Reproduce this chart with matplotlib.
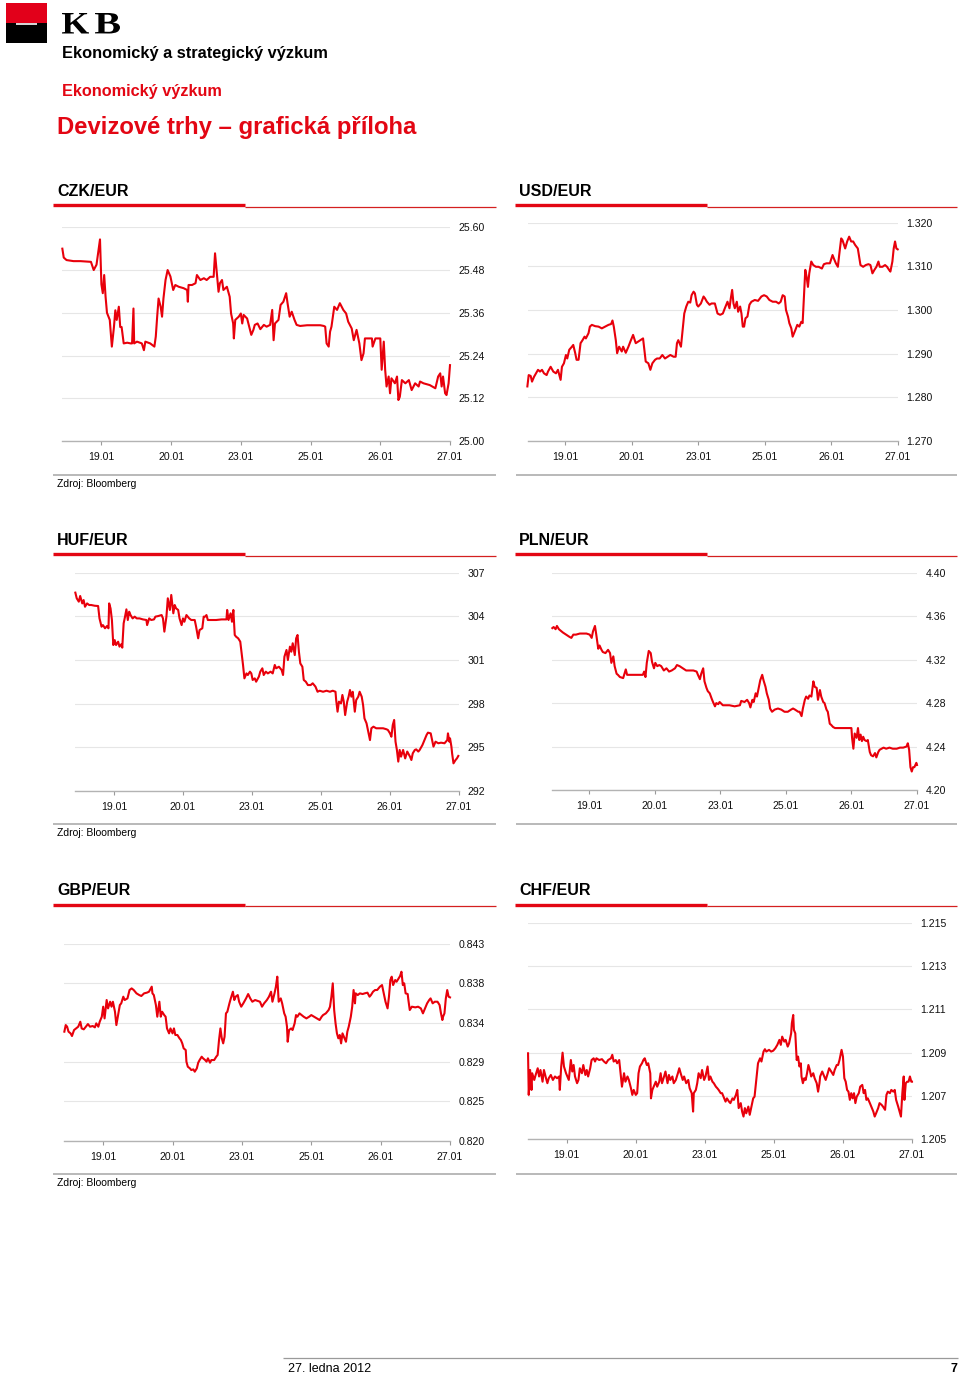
import matplotlib
matplotlib.use("Agg")
import matplotlib.pyplot as plt
from matplotlib.lines import Line2D
from matplotlib.patches import Rectangle, PathPatch
from matplotlib.textpath import TextPath
from matplotlib.font_manager import FontProperties
from matplotlib.transforms import Affine2D, IdentityTransform

plt.rcParams['font.family'] = ['Liberation Sans', 'DejaVu Sans']

# ---------------- data ----------------
date_labels = ["19.01", "20.01", "23.01", "25.01", "26.01", "27.01"]

czk = [(-0.56,25.540),(-0.54,25.515),(-0.50,25.508),(-0.40,25.505),(-0.30,25.505),(-0.15,25.503),(-0.11,25.480),(-0.07,25.495),(-0.02,25.566),(0.00,25.440),(0.02,25.415),(0.04,25.466),(0.06,25.405),(0.08,25.360),(0.12,25.340),(0.15,25.265),(0.18,25.320),(0.20,25.367),(0.22,25.340),(0.25,25.377),(0.27,25.320),(0.29,25.320),(0.32,25.274),(0.37,25.276),(0.42,25.274),(0.44,25.274),(0.46,25.372),(0.47,25.274),(0.51,25.279),(0.58,25.274),(0.61,25.255),(0.63,25.279),(0.70,25.274),(0.76,25.265),(0.78,25.293),(0.80,25.349),(0.82,25.400),(0.85,25.377),(0.87,25.349),(0.89,25.400),(0.92,25.452),(0.95,25.480),(0.99,25.462),(1.03,25.424),(1.06,25.438),(1.11,25.433),(1.18,25.429),(1.23,25.424),(1.24,25.391),(1.25,25.438),(1.30,25.438),(1.35,25.443),(1.37,25.466),(1.42,25.452),(1.47,25.457),(1.51,25.452),(1.56,25.461),(1.61,25.461),(1.63,25.527),(1.66,25.461),(1.68,25.419),(1.70,25.443),(1.73,25.452),(1.75,25.424),(1.80,25.433),(1.84,25.405),(1.86,25.358),(1.89,25.330),(1.90,25.288),(1.92,25.340),(1.97,25.349),(2.00,25.358),(2.02,25.330),(2.04,25.354),(2.09,25.344),(2.12,25.321),(2.15,25.298),(2.18,25.312),(2.20,25.326),(2.24,25.330),(2.28,25.314),(2.33,25.326),(2.37,25.321),(2.42,25.326),(2.45,25.368),(2.47,25.283),(2.49,25.330),(2.54,25.340),(2.57,25.382),(2.61,25.391),(2.65,25.415),(2.67,25.387),(2.70,25.349),(2.73,25.363),(2.77,25.340),(2.80,25.326),(2.85,25.323),(2.95,25.325),(3.04,25.325),(3.14,25.325),(3.19,25.323),(3.21,25.321),(3.23,25.274),(3.26,25.265),(3.28,25.307),(3.30,25.321),(3.34,25.377),(3.38,25.368),(3.42,25.387),(3.47,25.368),(3.51,25.358),(3.54,25.335),(3.59,25.316),(3.62,25.283),(3.66,25.312),(3.70,25.274),(3.73,25.227),(3.76,25.246),(3.78,25.288),(3.83,25.288),(3.88,25.288),(3.89,25.265),(3.93,25.288),(4.00,25.288),(4.02,25.200),(4.05,25.279),(4.07,25.200),(4.09,25.153),(4.12,25.181),(4.14,25.134),(4.16,25.176),(4.21,25.162),(4.24,25.181),(4.26,25.115),(4.28,25.124),(4.31,25.171),(4.36,25.162),(4.41,25.171),(4.45,25.143),(4.50,25.162),(4.55,25.153),(4.57,25.167),(4.62,25.162),(4.71,25.157),(4.79,25.148),(4.83,25.181),(4.86,25.190),(4.88,25.153),(4.90,25.181),(4.93,25.134),(4.95,25.129),(4.98,25.162),(5.00,25.213)]

usd = [(-0.57,1.2825),(-0.55,1.2851),(-0.52,1.2849),(-0.50,1.2836),(-0.47,1.2847),(-0.44,1.2855),(-0.41,1.2863),(-0.38,1.2859),(-0.35,1.2863),(-0.32,1.2855),(-0.28,1.2851),(-0.26,1.2859),(-0.22,1.2870),(-0.18,1.2859),(-0.14,1.2855),(-0.11,1.2863),(-0.07,1.2840),(-0.05,1.2870),(-0.02,1.2878),(0.01,1.2897),(0.03,1.2889),(0.06,1.2909),(0.10,1.2916),(0.12,1.2920),(0.15,1.2901),(0.17,1.2886),(0.20,1.2886),(0.23,1.2924),(0.26,1.2931),(0.29,1.2939),(0.31,1.2935),(0.35,1.2947),(0.37,1.2962),(0.40,1.2966),(0.45,1.2963),(0.50,1.2962),(0.55,1.2958),(0.60,1.2962),(0.65,1.2966),(0.69,1.2968),(0.71,1.2976),(0.73,1.2962),(0.76,1.2931),(0.78,1.2901),(0.81,1.2916),(0.85,1.2905),(0.87,1.2916),(0.91,1.2902),(0.95,1.2916),(0.98,1.2928),(1.02,1.2943),(1.06,1.2924),(1.10,1.2928),(1.13,1.2931),(1.17,1.2935),(1.19,1.2909),(1.21,1.2882),(1.25,1.2878),(1.28,1.2863),(1.31,1.2878),(1.35,1.2886),(1.38,1.2889),(1.42,1.2889),(1.46,1.2897),(1.50,1.2889),(1.54,1.2893),(1.58,1.2897),(1.63,1.2893),(1.66,1.2893),(1.68,1.2924),(1.70,1.2931),(1.74,1.2916),(1.77,1.2962),(1.79,1.2992),(1.82,1.3008),(1.85,1.3019),(1.88,1.3017),(1.90,1.3034),(1.93,1.3042),(1.95,1.3038),(1.98,1.3012),(2.00,1.3008),(2.04,1.3015),(2.08,1.3031),(2.10,1.3027),(2.13,1.3019),(2.17,1.3012),(2.20,1.3015),(2.25,1.3015),(2.29,1.2992),(2.33,1.2989),(2.37,1.2992),(2.40,1.3004),(2.44,1.3019),(2.47,1.3004),(2.49,1.3027),(2.51,1.3046),(2.53,1.3015),(2.55,1.3004),(2.58,1.3019),(2.60,1.2996),(2.63,1.3008),(2.65,1.2992),(2.67,1.2962),(2.69,1.2962),(2.71,1.2981),(2.74,1.2985),(2.77,1.3012),(2.80,1.3019),(2.85,1.3023),(2.90,1.3021),(2.95,1.3031),(2.99,1.3034),(3.03,1.3031),(3.07,1.3023),(3.12,1.3019),(3.17,1.3019),(3.21,1.3015),(3.24,1.3019),(3.27,1.3034),(3.30,1.3031),(3.32,1.3000),(3.35,1.2985),(3.37,1.2970),(3.40,1.2958),(3.42,1.2939),(3.46,1.2954),(3.49,1.2966),(3.52,1.2962),(3.55,1.2973),(3.57,1.2970),(3.59,1.3031),(3.61,1.3092),(3.63,1.3076),(3.65,1.3053),(3.67,1.3084),(3.70,1.3111),(3.73,1.3103),(3.77,1.3099),(3.81,1.3099),(3.86,1.3095),(3.89,1.3105),(3.93,1.3107),(3.98,1.3107),(4.02,1.3126),(4.04,1.3118),(4.07,1.3107),(4.10,1.3099),(4.12,1.3126),(4.15,1.3164),(4.17,1.3160),(4.21,1.3141),(4.24,1.3157),(4.27,1.3168),(4.30,1.3157),(4.33,1.3157),(4.36,1.3149),(4.40,1.3141),(4.42,1.3122),(4.44,1.3103),(4.48,1.3099),(4.52,1.3103),(4.56,1.3105),(4.59,1.3103),(4.62,1.3084),(4.65,1.3092),(4.68,1.3099),(4.71,1.3111),(4.73,1.3099),(4.77,1.3099),(4.81,1.3103),(4.84,1.3099),(4.87,1.3092),(4.89,1.3088),(4.92,1.3111),(4.94,1.3141),(4.96,1.3157),(4.98,1.3141),(5.00,1.3139)]

huf = [(-0.56,305.63),(-0.54,305.24),(-0.51,305.01),(-0.49,305.40),(-0.46,304.89),(-0.44,305.12),(-0.42,304.66),(-0.39,304.89),(-0.36,304.78),(-0.33,304.78),(-0.28,304.73),(-0.23,304.71),(-0.21,303.86),(-0.18,303.29),(-0.16,303.40),(-0.13,303.18),(-0.10,303.34),(-0.08,303.18),(-0.07,304.89),(-0.05,304.55),(-0.03,303.75),(-0.01,302.03),(0.01,302.37),(0.03,302.03),(0.06,302.26),(0.08,301.92),(0.11,302.10),(0.12,301.85),(0.14,303.52),(0.16,303.98),(0.18,304.48),(0.20,303.75),(0.22,304.32),(0.24,304.09),(0.27,303.86),(0.30,303.98),(0.33,303.86),(0.37,303.86),(0.42,303.79),(0.47,303.75),(0.48,303.40),(0.51,303.86),(0.54,303.75),(0.58,303.79),(0.60,303.98),(0.64,304.02),(0.69,304.09),(0.71,303.86),(0.73,302.95),(0.76,303.98),(0.78,305.24),(0.81,304.44),(0.83,305.47),(0.86,304.21),(0.88,304.78),(0.90,304.55),(0.93,304.44),(0.95,303.86),(0.98,303.40),(1.00,303.86),(1.02,303.63),(1.05,304.09),(1.09,303.86),(1.12,303.75),(1.17,303.75),(1.19,303.29),(1.22,302.49),(1.24,303.06),(1.28,303.18),(1.30,303.98),(1.32,303.98),(1.34,304.09),(1.36,303.75),(1.41,303.75),(1.48,303.75),(1.56,303.79),(1.63,303.79),(1.64,304.44),(1.66,303.75),(1.69,304.21),(1.71,303.63),(1.73,304.44),(1.75,302.72),(1.77,302.60),(1.80,302.49),(1.83,302.26),(1.85,301.46),(1.87,300.66),(1.89,299.74),(1.92,300.08),(1.94,299.97),(1.97,300.20),(1.99,300.08),(2.01,299.63),(2.04,299.74),(2.06,299.51),(2.10,299.86),(2.12,300.20),(2.15,300.43),(2.17,299.97),(2.20,300.20),(2.23,300.08),(2.27,300.20),(2.30,300.08),(2.33,300.66),(2.35,300.43),(2.39,300.54),(2.43,300.31),(2.45,299.97),(2.47,301.23),(2.50,301.69),(2.52,301.00),(2.55,301.92),(2.57,301.57),(2.59,302.15),(2.62,301.34),(2.64,302.49),(2.66,302.72),(2.68,301.57),(2.70,300.77),(2.73,300.54),(2.75,299.63),(2.78,299.51),(2.81,299.28),(2.85,299.28),(2.88,299.40),(2.92,299.17),(2.95,298.82),(2.98,298.89),(3.03,298.82),(3.08,298.89),(3.13,298.82),(3.17,298.89),(3.21,298.82),(3.22,298.25),(3.24,297.45),(3.26,298.14),(3.29,298.02),(3.31,298.60),(3.33,298.14),(3.35,297.22),(3.38,298.14),(3.40,298.48),(3.42,298.94),(3.44,298.48),(3.46,298.82),(3.49,297.45),(3.51,298.25),(3.54,298.48),(3.56,298.82),(3.59,298.48),(3.61,297.91),(3.63,296.99),(3.66,296.65),(3.68,296.19),(3.71,295.50),(3.73,296.31),(3.76,296.42),(3.80,296.31),(3.85,296.31),(3.90,296.31),(3.95,296.24),(3.97,296.19),(4.00,295.96),(4.02,295.73),(4.04,296.53),(4.06,296.88),(4.08,295.39),(4.10,294.82),(4.12,294.02),(4.14,294.82),(4.16,294.36),(4.19,294.82),(4.22,294.24),(4.25,294.71),(4.29,294.36),(4.31,294.13),(4.33,294.59),(4.36,294.82),(4.38,294.86),(4.41,294.71),(4.43,294.82),(4.47,295.16),(4.50,295.50),(4.53,295.85),(4.55,296.01),(4.59,295.96),(4.61,295.50),(4.63,295.05),(4.66,295.39),(4.70,295.28),(4.74,295.32),(4.79,295.28),(4.83,295.50),(4.84,295.96),(4.86,295.39),(4.87,295.62),(4.89,295.05),(4.90,294.59),(4.92,293.90),(4.95,294.13),(4.97,294.24),(4.99,294.41)]

pln = [(-0.56,4.349),(-0.54,4.350),(-0.51,4.348),(-0.49,4.351),(-0.46,4.348),(-0.44,4.347),(-0.40,4.345),(-0.35,4.343),(-0.30,4.341),(-0.27,4.340),(-0.24,4.343),(-0.20,4.343),(-0.14,4.344),(-0.09,4.344),(-0.04,4.344),(0.01,4.343),(0.04,4.340),(0.06,4.346),(0.09,4.351),(0.11,4.343),(0.14,4.330),(0.16,4.333),(0.19,4.329),(0.21,4.327),(0.25,4.326),(0.29,4.329),(0.32,4.326),(0.34,4.317),(0.37,4.323),(0.39,4.314),(0.42,4.307),(0.44,4.306),(0.47,4.304),(0.52,4.303),(0.54,4.307),(0.56,4.311),(0.58,4.306),(0.62,4.306),(0.67,4.306),(0.75,4.306),(0.82,4.306),(0.84,4.309),(0.86,4.304),(0.88,4.317),(0.91,4.328),(0.94,4.326),(0.96,4.318),(0.99,4.312),(1.01,4.317),(1.04,4.314),(1.07,4.315),(1.10,4.314),(1.14,4.310),(1.18,4.312),(1.22,4.309),(1.26,4.310),(1.31,4.312),(1.34,4.315),(1.38,4.314),(1.43,4.312),(1.48,4.310),(1.54,4.310),(1.59,4.310),(1.64,4.309),(1.66,4.306),(1.69,4.302),(1.71,4.307),(1.74,4.312),(1.76,4.300),(1.79,4.294),(1.81,4.291),(1.84,4.289),(1.87,4.284),(1.89,4.281),(1.92,4.277),(1.94,4.280),(1.97,4.279),(1.99,4.281),(2.04,4.278),(2.09,4.278),(2.14,4.278),(2.22,4.277),(2.30,4.278),(2.32,4.282),(2.37,4.281),(2.41,4.283),(2.44,4.280),(2.46,4.276),(2.49,4.283),(2.51,4.281),(2.54,4.289),(2.56,4.286),(2.59,4.295),(2.61,4.301),(2.64,4.306),(2.66,4.301),(2.69,4.295),(2.71,4.289),(2.74,4.283),(2.76,4.275),(2.79,4.272),(2.83,4.274),(2.88,4.275),(2.93,4.274),(2.98,4.272),(3.03,4.272),(3.08,4.274),(3.11,4.275),(3.14,4.274),(3.19,4.272),(3.21,4.272),(3.24,4.268),(3.26,4.275),(3.29,4.283),(3.31,4.286),(3.34,4.284),(3.36,4.287),(3.39,4.286),(3.42,4.300),(3.44,4.295),(3.47,4.294),(3.49,4.283),(3.52,4.292),(3.54,4.286),(3.57,4.281),(3.59,4.280),(3.62,4.274),(3.64,4.272),(3.67,4.261),(3.69,4.260),(3.72,4.258),(3.75,4.257),(3.80,4.257),(3.87,4.257),(3.95,4.257),(4.00,4.257),(4.01,4.248),(4.03,4.238),(4.05,4.252),(4.08,4.248),(4.10,4.257),(4.12,4.246),(4.14,4.251),(4.16,4.245),(4.18,4.249),(4.20,4.246),(4.23,4.245),(4.25,4.246),(4.28,4.235),(4.30,4.232),(4.33,4.231),(4.36,4.234),(4.38,4.230),(4.41,4.235),(4.43,4.237),(4.46,4.238),(4.49,4.239),(4.53,4.238),(4.58,4.239),(4.63,4.238),(4.69,4.238),(4.74,4.239),(4.79,4.239),(4.84,4.240),(4.86,4.243),(4.88,4.237),(4.90,4.221),(4.92,4.217),(4.94,4.221),(4.96,4.221),(4.99,4.225),(5.00,4.223)]

gbp = [(-0.56,0.83275),(-0.54,0.83352),(-0.52,0.83333),(-0.50,0.83275),(-0.47,0.83255),(-0.45,0.83224),(-0.42,0.83294),(-0.39,0.83313),(-0.36,0.83333),(-0.33,0.83391),(-0.31,0.83313),(-0.28,0.83302),(-0.25,0.83333),(-0.22,0.83364),(-0.19,0.83333),(-0.15,0.83341),(-0.12,0.83325),(-0.10,0.83372),(-0.07,0.83333),(-0.05,0.83391),(-0.02,0.83450),(0.00,0.83567),(0.02,0.83430),(0.05,0.83645),(0.07,0.83547),(0.10,0.83625),(0.12,0.83567),(0.14,0.83625),(0.17,0.83508),(0.19,0.83352),(0.22,0.83489),(0.24,0.83586),(0.26,0.83606),(0.29,0.83684),(0.31,0.83645),(0.35,0.83664),(0.38,0.83762),(0.41,0.83781),(0.44,0.83762),(0.48,0.83723),(0.52,0.83703),(0.55,0.83692),(0.59,0.83723),(0.63,0.83731),(0.66,0.83742),(0.70,0.83801),(0.71,0.83723),(0.73,0.83703),(0.76,0.83586),(0.78,0.83450),(0.81,0.83625),(0.83,0.83450),(0.85,0.83508),(0.88,0.83469),(0.90,0.83450),(0.92,0.83313),(0.95,0.83255),(0.97,0.83313),(1.00,0.83255),(1.02,0.83313),(1.04,0.83236),(1.07,0.83236),(1.10,0.83197),(1.12,0.83177),(1.14,0.83138),(1.16,0.83080),(1.19,0.83060),(1.20,0.82924),(1.22,0.82865),(1.25,0.82846),(1.27,0.82826),(1.30,0.82834),(1.32,0.82807),(1.35,0.82846),(1.37,0.82912),(1.39,0.82943),(1.42,0.82982),(1.44,0.82963),(1.47,0.82943),(1.49,0.82924),(1.51,0.82963),(1.54,0.82912),(1.56,0.82943),(1.60,0.82943),(1.63,0.82982),(1.65,0.83002),(1.67,0.83177),(1.69,0.83313),(1.71,0.83197),(1.73,0.83138),(1.75,0.83216),(1.77,0.83489),(1.79,0.83508),(1.82,0.83606),(1.84,0.83664),(1.87,0.83742),(1.89,0.83645),(1.91,0.83684),(1.94,0.83703),(1.96,0.83625),(1.99,0.83567),(2.02,0.83606),(2.06,0.83664),(2.09,0.83715),(2.12,0.83664),(2.15,0.83625),(2.19,0.83645),(2.22,0.83637),(2.26,0.83625),(2.29,0.83567),(2.32,0.83606),(2.36,0.83645),(2.39,0.83684),(2.42,0.83742),(2.44,0.83625),(2.47,0.83723),(2.49,0.83801),(2.51,0.83918),(2.53,0.83625),(2.56,0.83664),(2.58,0.83606),(2.61,0.83489),(2.63,0.83450),(2.65,0.83333),(2.66,0.83157),(2.68,0.83294),(2.71,0.83313),(2.73,0.83294),(2.76,0.83372),(2.78,0.83469),(2.80,0.83450),(2.83,0.83489),(2.86,0.83469),(2.89,0.83450),(2.93,0.83430),(2.97,0.83450),(3.00,0.83469),(3.04,0.83450),(3.08,0.83430),(3.12,0.83411),(3.15,0.83450),(3.17,0.83469),(3.21,0.83489),(3.25,0.83528),(3.27,0.83567),(3.29,0.83684),(3.31,0.83840),(3.33,0.83528),(3.35,0.83372),(3.37,0.83255),(3.39,0.83197),(3.41,0.83236),(3.43,0.83138),(3.45,0.83255),(3.47,0.83216),(3.50,0.83157),(3.52,0.83275),(3.54,0.83333),(3.57,0.83450),(3.59,0.83567),(3.61,0.83762),(3.63,0.83606),(3.64,0.83723),(3.67,0.83703),(3.70,0.83723),(3.74,0.83715),(3.77,0.83723),(3.81,0.83731),(3.84,0.83684),(3.86,0.83703),(3.89,0.83742),(3.92,0.83762),(3.95,0.83762),(3.99,0.83801),(4.02,0.83820),(4.05,0.83703),(4.07,0.83625),(4.10,0.83547),(4.12,0.83684),(4.14,0.83879),(4.16,0.83918),(4.18,0.83820),(4.21,0.83879),(4.23,0.83859),(4.26,0.83898),(4.28,0.83925),(4.30,0.83976),(4.32,0.83820),(4.34,0.83840),(4.36,0.83723),(4.39,0.83715),(4.40,0.83645),(4.42,0.83528),(4.45,0.83567),(4.50,0.83559),(4.54,0.83567),(4.58,0.83547),(4.61,0.83489),(4.64,0.83547),(4.67,0.83606),(4.70,0.83645),(4.72,0.83664),(4.75,0.83606),(4.78,0.83625),(4.82,0.83625),(4.85,0.83586),(4.87,0.83489),(4.89,0.83411),(4.90,0.83450),(4.92,0.83489),(4.94,0.83664),(4.96,0.83762),(4.98,0.83684),(5.00,0.83676)]

chf = [(-0.56,1.20897),(-0.55,1.20705),(-0.53,1.20820),(-0.51,1.20728),(-0.50,1.20805),(-0.47,1.20774),(-0.45,1.20797),(-0.42,1.20828),(-0.40,1.20790),(-0.38,1.20820),(-0.35,1.20766),(-0.33,1.20820),(-0.30,1.20782),(-0.28,1.20759),(-0.26,1.20782),(-0.23,1.20797),(-0.20,1.20774),(-0.17,1.20790),(-0.14,1.20782),(-0.11,1.20790),(-0.10,1.20728),(-0.08,1.20836),(-0.06,1.20900),(-0.04,1.20836),(-0.01,1.20805),(0.01,1.20790),(0.03,1.20774),(0.06,1.20866),(0.08,1.20813),(0.10,1.20843),(0.12,1.20790),(0.15,1.20759),(0.17,1.20774),(0.19,1.20828),(0.22,1.20805),(0.24,1.20843),(0.27,1.20797),(0.29,1.20820),(0.31,1.20790),(0.34,1.20828),(0.36,1.20866),(0.39,1.20874),(0.41,1.20859),(0.43,1.20874),(0.47,1.20866),(0.51,1.20870),(0.54,1.20859),(0.57,1.20851),(0.60,1.20866),(0.64,1.20874),(0.66,1.20890),(0.68,1.20859),(0.71,1.20866),(0.73,1.20851),(0.76,1.20866),(0.78,1.20805),(0.80,1.20743),(0.83,1.20805),(0.85,1.20766),(0.88,1.20790),(0.90,1.20774),(0.93,1.20736),(0.95,1.20705),(0.97,1.20728),(1.00,1.20705),(1.02,1.20713),(1.04,1.20805),(1.06,1.20836),(1.09,1.20851),(1.11,1.20866),(1.13,1.20874),(1.16,1.20843),(1.18,1.20851),(1.21,1.20805),(1.22,1.20689),(1.24,1.20728),(1.26,1.20743),(1.29,1.20766),(1.31,1.20743),(1.34,1.20766),(1.36,1.20805),(1.38,1.20759),(1.41,1.20790),(1.43,1.20813),(1.46,1.20759),(1.48,1.20797),(1.50,1.20774),(1.53,1.20790),(1.55,1.20759),(1.58,1.20774),(1.61,1.20805),(1.63,1.20828),(1.65,1.20805),(1.68,1.20774),(1.70,1.20790),(1.73,1.20759),(1.76,1.20774),(1.78,1.20736),(1.81,1.20713),(1.83,1.20628),(1.84,1.20713),(1.87,1.20728),(1.89,1.20759),(1.91,1.20805),(1.94,1.20782),(1.96,1.20820),(1.99,1.20774),(2.01,1.20790),(2.04,1.20836),(2.06,1.20774),(2.08,1.20790),(2.11,1.20766),(2.13,1.20759),(2.16,1.20743),(2.18,1.20736),(2.20,1.20728),(2.23,1.20713),(2.25,1.20713),(2.28,1.20689),(2.30,1.20674),(2.32,1.20689),(2.35,1.20674),(2.37,1.20667),(2.40,1.20689),(2.42,1.20682),(2.45,1.20705),(2.47,1.20728),(2.49,1.20644),(2.52,1.20667),(2.54,1.20628),(2.56,1.20605),(2.58,1.20644),(2.60,1.20620),(2.63,1.20651),(2.65,1.20613),(2.68,1.20659),(2.70,1.20689),(2.72,1.20697),(2.75,1.20790),(2.77,1.20851),(2.80,1.20874),(2.82,1.20859),(2.85,1.20905),(2.87,1.20916),(2.89,1.20905),(2.93,1.20913),(2.96,1.20905),(2.99,1.20909),(3.02,1.20920),(3.05,1.20936),(3.08,1.20959),(3.10,1.20936),(3.12,1.20974),(3.15,1.20951),(3.17,1.20959),(3.20,1.20928),(3.22,1.20943),(3.25,1.20989),(3.26,1.21036),(3.28,1.21074),(3.29,1.21005),(3.31,1.20989),(3.33,1.20866),(3.35,1.20882),(3.37,1.20836),(3.39,1.20851),(3.40,1.20790),(3.42,1.20759),(3.44,1.20782),(3.46,1.20774),(3.48,1.20805),(3.50,1.20843),(3.52,1.20820),(3.54,1.20790),(3.57,1.20805),(3.59,1.20782),(3.62,1.20759),(3.64,1.20720),(3.66,1.20759),(3.67,1.20790),(3.70,1.20813),(3.72,1.20797),(3.75,1.20774),(3.78,1.20805),(3.80,1.20828),(3.83,1.20813),(3.86,1.20797),(3.88,1.20820),(3.91,1.20843),(3.93,1.20843),(3.95,1.20866),(3.98,1.20913),(4.00,1.20882),(4.02,1.20782),(4.04,1.20766),(4.06,1.20728),(4.08,1.20720),(4.10,1.20682),(4.12,1.20713),(4.14,1.20689),(4.16,1.20713),(4.18,1.20667),(4.20,1.20697),(4.23,1.20713),(4.25,1.20743),(4.28,1.20751),(4.30,1.20713),(4.32,1.20728),(4.34,1.20682),(4.36,1.20689),(4.39,1.20667),(4.41,1.20651),(4.44,1.20628),(4.46,1.20605),(4.48,1.20620),(4.51,1.20644),(4.53,1.20667),(4.56,1.20659),(4.58,1.20651),(4.61,1.20636),(4.63,1.20705),(4.65,1.20720),(4.68,1.20713),(4.70,1.20728),(4.73,1.20720),(4.75,1.20728),(4.77,1.20682),(4.80,1.20651),(4.82,1.20628),(4.84,1.20605),(4.86,1.20713),(4.88,1.20790),(4.89,1.20682),(4.91,1.20759),(4.93,1.20766),(4.95,1.20766),(4.97,1.20790),(4.99,1.20766),(5.00,1.20766)]

czk_ticks = [25.00, 25.12, 25.24, 25.36, 25.48, 25.60]
czk_labels = ["25.00", "25.12", "25.24", "25.36", "25.48", "25.60"]
usd_ticks = [1.270, 1.280, 1.290, 1.300, 1.310, 1.320]
usd_labels = ["1.270", "1.280", "1.290", "1.300", "1.310", "1.320"]
huf_ticks = [292, 295, 298, 301, 304, 307]
huf_labels = ["292", "295", "298", "301", "304", "307"]
pln_ticks = [4.20, 4.24, 4.28, 4.32, 4.36, 4.40]
pln_labels = ["4.20", "4.24", "4.28", "4.32", "4.36", "4.40"]
gbp_ticks = [0.8200, 0.8246, 0.8292, 0.8338, 0.8384, 0.8430]
gbp_labels = ["0.820", "0.825", "0.829", "0.834", "0.838", "0.843"]
chf_ticks = [1.205, 1.207, 1.209, 1.211, 1.213, 1.215]
chf_labels = ["1.205", "1.207", "1.209", "1.211", "1.213", "1.215"]

# ---------------- figure ----------------
W, H = 960, 1375
fig = plt.figure(figsize=(W / 100, H / 100), dpi=100)
fig.patch.set_facecolor("white")

RED = "#e30613"
LINE_RED = "#e8000b"
GRID = "#e6e6e6"
AXIS_GRAY = "#b3b3b3"


def fx(x):
    return x / W


def fy(y):
    return 1 - y / H


def hline(x0, x1, y, color, lw):
    fig.add_artist(Line2D([fx(x0), fx(x1)], [fy(y), fy(y)], color=color, lw=lw,
                          transform=fig.transFigure, solid_capstyle="butt"))


def ftext(x, y, s, **kw):
    fig.text(fx(x), fy(y), s, **kw)


def chart(series, ticks, labels, box, title, title_x, row_y, left_side):
    x0, x1, y0, y1 = box
    ax = fig.add_axes([fx(x0), fy(y1), fx(x1 - x0), (y1 - y0) / H])
    t = [p[0] for p in series]
    v = [p[1] for p in series]
    ax.plot(t, v, color=LINE_RED, lw=1.5, clip_on=False, zorder=3)
    ax.set_xlim(-0.565, 5.0)
    ax.set_ylim(ticks[0], ticks[-1])
    ax.set_yticks(ticks)
    ax.set_yticklabels(labels)
    ax.yaxis.tick_right()
    ax.tick_params(axis="y", length=0, pad=6, labelsize=7.6, labelcolor="#111111")
    ax.set_xticks(range(len(date_labels)))
    ax.set_xticklabels(date_labels)
    ax.tick_params(axis="x", length=3, width=0.8, color="#9a9a9a", pad=5,
                   labelsize=7.6, labelcolor="#111111")
    for s in ("top", "left", "right"):
        ax.spines[s].set_visible(False)
    ax.spines["bottom"].set_color(AXIS_GRAY)
    ax.spines["bottom"].set_linewidth(1.0)
    ax.grid(axis="y", color=GRID, lw=0.8)
    ax.set_axisbelow(True)
    ax.patch.set_alpha(0)
    # title & decorative rules
    ftext(title_x, row_y, title, fontsize=11.5, fontweight="bold", va="center", ha="left")
    if left_side:
        hline(53, 245, row_y + 14, RED, 2.4)
        hline(245, 495.6, row_y + 15.5, "#d42020", 0.9)
        hline(53, 495.6, row_y + 283.5, "#a6a6a6", 1.1)
        ftext(57, row_y + 293, "Zdroj: Bloomberg", fontsize=7.5, va="center", ha="left")
    else:
        hline(515, 707, row_y + 14, RED, 2.4)
        hline(707, 957, row_y + 15.5, "#d42020", 0.9)
        hline(516, 957, row_y + 283.5, "#a6a6a6", 1.1)


chart(czk, czk_ticks, czk_labels, (62, 450, 227.3, 441), "CZK/EUR", 57, 191, True)
chart(usd, usd_ticks, usd_labels, (527.7, 897.7, 222.7, 441), "USD/EUR", 519, 191, False)
chart(huf, huf_ticks, huf_labels, (75, 459, 572.7, 791), "HUF/EUR", 57, 540.5, True)
chart(pln, pln_ticks, pln_labels, (552, 917, 572.7, 790), "PLN/EUR", 519, 540.5, False)
chart(gbp, gbp_ticks, gbp_labels, (64, 450, 944, 1140.7), "GBP/EUR", 57, 890.5, True)
chart(chf, chf_ticks, chf_labels, (527.7, 912, 922.7, 1139.3), "CHF/EUR", 519, 890.5, False)

# ---------------- header ----------------
fig.add_artist(Rectangle((fx(6), fy(23.3)), fx(40.5), 20 / H, transform=fig.transFigure,
                         facecolor="#e2001a", edgecolor="none"))
fig.add_artist(Rectangle((fx(6), fy(43.3)), fx(40.5), 20 / H, transform=fig.transFigure,
                         facecolor="#000000", edgecolor="none"))
hline(16, 37, 24.3, "white", 1.2)

# "KB" wordmark: serif letters stretched to the logo's proportions
kb_font = FontProperties(family="Liberation Serif", weight="bold")
for ch, left, width in (("K", 62, 27), ("B", 95, 25)):
    tp = TextPath((0, 0), ch, size=30, prop=kb_font)
    bb = tp.get_extents()
    tr = (Affine2D().translate(-bb.x0, -bb.y0)
          .scale(width / bb.width, 20.5 / bb.height)
          .translate(left, H - 33.5))
    fig.add_artist(PathPatch(tr.transform_path(tp), transform=IdentityTransform(),
                             facecolor="black", edgecolor="none"))

ftext(62, 53.5, "Ekonomický a strategický výzkum", fontsize=11.8, fontweight="bold",
      va="center", ha="left")
ftext(62, 91.5, "Ekonomický výzkum", fontsize=11.7, fontweight="bold", color=RED,
      va="center", ha="left")
ftext(57, 127.5, "Devizové trhy – grafická příloha", fontsize=17.2, fontweight="bold",
      color=RED, va="center", ha="left")

# ---------------- footer ----------------
hline(283, 958, 1358, "#9a9a9a", 0.9)
ftext(288, 1368.5, "27. ledna 2012", fontsize=9, va="center", ha="left")
ftext(957, 1368.5, "7", fontsize=9, fontweight="bold", va="center", ha="right")

fig.savefig("out.png", dpi=100, facecolor="white")
